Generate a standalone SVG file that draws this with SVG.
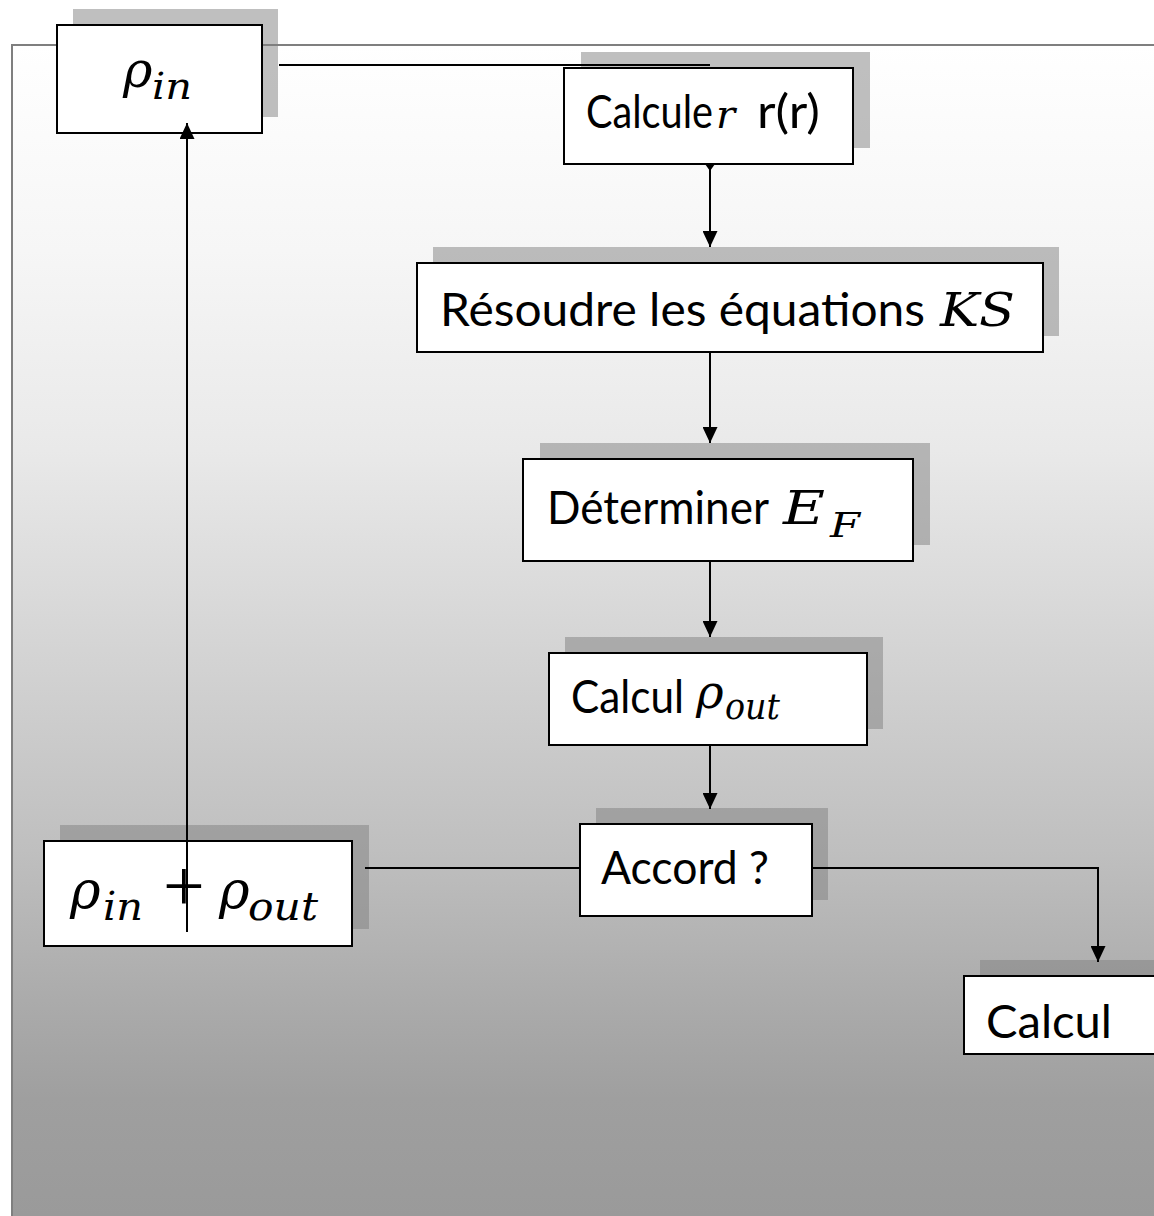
<svg xmlns="http://www.w3.org/2000/svg" width="1154" height="1216" viewBox="0 0 1154 1216">
<defs>
<linearGradient id="bg" gradientUnits="userSpaceOnUse" x1="0" y1="45" x2="0" y2="1216">
<stop offset="0" stop-color="#ffffff"/>
<stop offset="0.175" stop-color="#f6f6f6"/>
<stop offset="0.346" stop-color="#e9e9e9"/>
<stop offset="0.517" stop-color="#d4d4d4"/>
<stop offset="0.688" stop-color="#bfbfbf"/>
<stop offset="0.816" stop-color="#ababab"/>
<stop offset="0.9" stop-color="#9f9f9f"/>
<stop offset="1" stop-color="#9a9a9a"/>
</linearGradient>
<marker id="arr" markerUnits="userSpaceOnUse" viewBox="0 0 16 15" refX="16" refY="7.5" markerWidth="16" markerHeight="15" orient="auto">
<path d="M0,0 L16,7.5 L0,15 z" fill="#000"/>
</marker>
<style>
.sh{fill:#808080;fill-opacity:0.5}
.bx{fill:#fff;stroke:#000;stroke-width:2}
.t{font-family:Lato,"Liberation Sans",sans-serif;font-size:46px;fill:#000}
.m{font-family:"DejaVu Serif","Liberation Serif",serif;font-style:italic;fill:#000}
.op{font-family:"Liberation Serif",serif;fill:#000}
.c{fill:none;stroke:#000;stroke-width:2}
</style>
</defs>
<rect x="0" y="0" width="1154" height="1216" fill="#fff"/>
<rect x="12" y="45" width="1170" height="1200" fill="url(#bg)" stroke="#7f7f7f" stroke-width="2"/>

<g id="node-rho-in">
<rect class="sh" x="73" y="9" width="205" height="108"/>
<rect class="bx" x="57" y="25" width="205" height="108"/>
<text class="m" x="123" y="87" font-size="50">ρ</text>
<text class="m" x="152" y="99" font-size="38" textLength="40" lengthAdjust="spacingAndGlyphs">in</text>
</g>

<g id="node-calculer">
<rect class="sh" x="581" y="52" width="289" height="96"/>
<rect class="bx" x="564" y="68" width="289" height="96"/>
<text class="t" y="128"><tspan x="586" textLength="127" lengthAdjust="spacingAndGlyphs">Calcule</tspan><tspan class="m" x="716" font-size="40">r</tspan><tspan x="757" textLength="63" lengthAdjust="spacingAndGlyphs">r(r)</tspan></text>
</g>

<g id="node-resoudre">
<rect class="sh" x="433" y="247" width="626" height="89"/>
<rect class="bx" x="417" y="263" width="626" height="89"/>
<text class="t" x="440" y="326" font-size="48" textLength="485" lengthAdjust="spacingAndGlyphs">Résoudre les équations</text>
<text class="m" x="940" y="326" font-size="46" textLength="75" lengthAdjust="spacingAndGlyphs">KS</text>
</g>

<g id="node-determiner">
<rect class="sh" x="540" y="443" width="390" height="102"/>
<rect class="bx" x="523" y="459" width="390" height="102"/>
<text class="t" x="547" y="524" font-size="48" textLength="222" lengthAdjust="spacingAndGlyphs">Déterminer</text>
<text class="m" x="783" y="524" font-size="46" textLength="42" lengthAdjust="spacingAndGlyphs">E</text>
<text class="m" x="830" y="537" font-size="34" textLength="30" lengthAdjust="spacingAndGlyphs">F</text>
</g>

<g id="node-calcul-rho-out">
<rect class="sh" x="565" y="637" width="318" height="92"/>
<rect class="bx" x="549" y="653" width="318" height="92"/>
<text class="t" x="571" y="713" textLength="113" lengthAdjust="spacingAndGlyphs">Calcul</text>
<text class="m" x="696" y="708" font-size="47">ρ</text>
<text class="m" x="725" y="719" font-size="35" textLength="55" lengthAdjust="spacingAndGlyphs">out</text>
</g>

<g id="node-accord">
<rect class="sh" x="596" y="808" width="232" height="92"/>
<rect class="bx" x="580" y="824" width="232" height="92"/>
<text class="t" x="601" y="884" textLength="168" lengthAdjust="spacingAndGlyphs">Accord ?</text>
</g>

<g id="node-rho-sum">
<rect class="sh" x="60" y="825" width="309" height="104"/>
<rect class="bx" x="44" y="841" width="308" height="105"/>
<text class="m" x="70" y="908" font-size="52">ρ</text>
<text class="m" x="103" y="920" font-size="39" textLength="40" lengthAdjust="spacingAndGlyphs">in</text>
<text class="op" x="163" y="911" font-size="74">+</text>
<text class="m" x="219" y="908" font-size="52">ρ</text>
<text class="m" x="248" y="920" font-size="39" textLength="70" lengthAdjust="spacingAndGlyphs">out</text>
</g>

<g id="node-calcul">
<rect class="sh" x="980" y="960" width="200" height="78"/>
<rect class="bx" x="964" y="976" width="210" height="78"/>
<text class="t" x="986" y="1038" font-size="48" textLength="126" lengthAdjust="spacingAndGlyphs">Calcul</text>
</g>

<g id="connectors">
<path class="c" d="M279,65 H710"/>
<polygon points="705,164 715,164 710,171" fill="#000"/>
<path class="c" d="M710,164 V247" marker-end="url(#arr)"/>
<path class="c" d="M710,352 V443" marker-end="url(#arr)"/>
<path class="c" d="M710,561 V637" marker-end="url(#arr)"/>
<path class="c" d="M710,745 V809" marker-end="url(#arr)"/>
<path class="c" d="M580,868 H365"/>
<path class="c" d="M812,868 H1098 V962" marker-end="url(#arr)"/>
<path class="c" d="M187,932 V123" marker-end="url(#arr)"/>
</g>
</svg>
